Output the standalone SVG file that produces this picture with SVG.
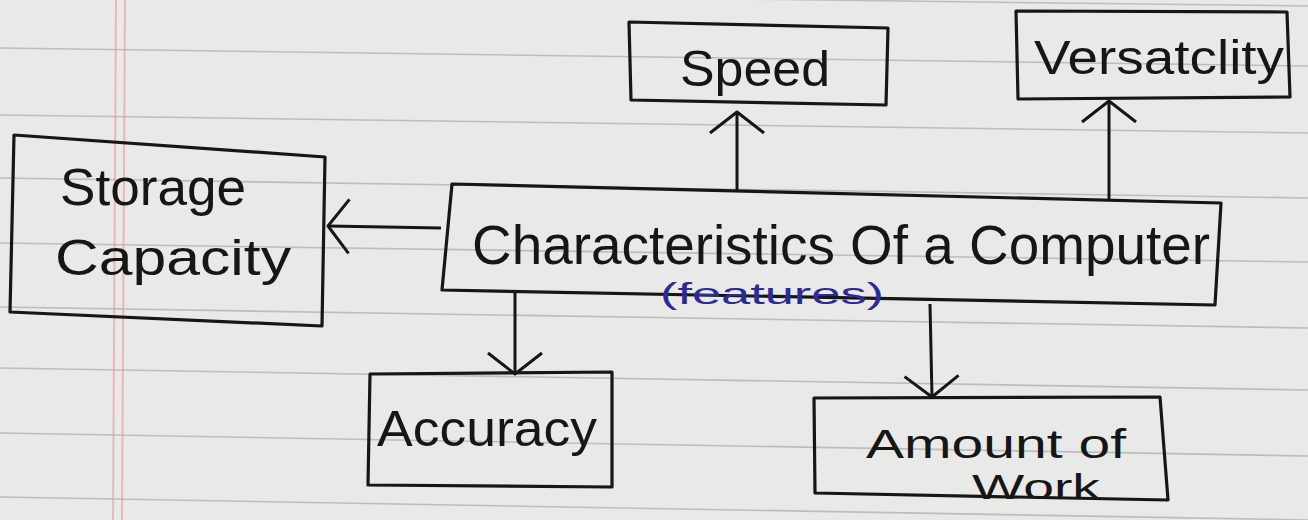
<svg xmlns="http://www.w3.org/2000/svg" width="1308" height="520" viewBox="0 0 1308 520">
  <defs>
    <style>
      .paper { fill: #e9e9e7; }
      .rule { stroke: #9a9a9a; stroke-width: 1.6; opacity: 0.55; }
      .margin { stroke: #e59a9a; stroke-width: 2; opacity: 0.6; }
      .box { fill: none; stroke: #161616; stroke-width: 3.2; stroke-linejoin: round; }
      .conn { fill: none; stroke: #161616; stroke-width: 3; }
      .ink { font-family: "Liberation Sans Narrow", "Liberation Sans", sans-serif; fill: #161616; }
      .blue { font-family: "Liberation Sans Narrow", "Liberation Sans", sans-serif; fill: #2b2a9a; }
    </style>
    <marker id="vhead" viewBox="-24 -32 28 64" refX="0" refY="0" markerWidth="28" markerHeight="64" markerUnits="userSpaceOnUse" orient="auto">
      <path d="M-21,-27 L0,0 L-21,27" fill="none" stroke="#161616" stroke-width="3" stroke-linejoin="round"/>
    </marker>
  </defs>

  <g id="paper">
    <rect class="paper" x="0" y="0" width="1308" height="520"/>
    <line class="rule" x1="0" y1="-10" x2="1308" y2="6"/>
    <line class="rule" x1="0" y1="48" x2="1308" y2="66"/>
    <line class="rule" x1="0" y1="115" x2="1308" y2="133"/>
    <line class="rule" x1="0" y1="178" x2="1308" y2="198"/>
    <line class="rule" x1="0" y1="243" x2="1308" y2="262"/>
    <line class="rule" x1="0" y1="307" x2="1308" y2="328"/>
    <line class="rule" x1="0" y1="368" x2="1308" y2="390"/>
    <line class="rule" x1="0" y1="433" x2="1308" y2="456"/>
    <line class="rule" x1="0" y1="497" x2="1308" y2="520"/>
    <line class="margin" x1="116" y1="0" x2="113" y2="520"/>
    <line class="margin" x1="125" y1="0" x2="122" y2="520"/>
  </g>

  <g id="connectors">
    <line class="conn" x1="737" y1="190" x2="737" y2="112" marker-end="url(#vhead)"/>
    <line class="conn" x1="1109" y1="199" x2="1109" y2="101" marker-end="url(#vhead)"/>
    <line class="conn" x1="441" y1="228" x2="328" y2="226" marker-end="url(#vhead)"/>
    <line class="conn" x1="515" y1="291" x2="515" y2="374" marker-end="url(#vhead)"/>
    <line class="conn" x1="930" y1="304" x2="932" y2="397" marker-end="url(#vhead)"/>
  </g>

  <g id="main">
    <polygon class="box" points="452,184 1221,203 1215,305 442,290"/>
    <text class="ink" x="472" y="264" font-size="56" textLength="738" lengthAdjust="spacingAndGlyphs">Characteristics  Of a Computer</text>
    <text class="blue" x="660" y="304" font-size="30" textLength="224" lengthAdjust="spacingAndGlyphs">(features)</text>
  </g>

  <g id="speed">
    <polygon class="box" points="629,22 888,28 886,105 631,100"/>
    <text class="ink" x="680" y="86" font-size="50" textLength="150" lengthAdjust="spacingAndGlyphs">Speed</text>
  </g>

  <g id="versatility">
    <polygon class="box" points="1016,11 1287,12 1290,97 1018,99"/>
    <text class="ink" x="1034" y="74" font-size="48" textLength="250" lengthAdjust="spacingAndGlyphs">Versatclity</text>
  </g>

  <g id="storage">
    <polygon class="box" points="14,135 325,157 322,326 10,312"/>
    <text class="ink" x="60" y="205" font-size="52" textLength="186" lengthAdjust="spacingAndGlyphs">Storage</text>
    <text class="ink" x="55" y="275" font-size="50" textLength="236" lengthAdjust="spacingAndGlyphs">Capacity</text>
  </g>

  <g id="accuracy">
    <polygon class="box" points="370,374 612,372 612,487 368,485"/>
    <text class="ink" x="377" y="446" font-size="50" textLength="220" lengthAdjust="spacingAndGlyphs">Accuracy</text>
  </g>

  <g id="amount">
    <polygon class="box" points="814,398 1160,397 1168,500 815,493"/>
    <text class="ink" x="866" y="458" font-size="40" textLength="260" lengthAdjust="spacingAndGlyphs">Amount  of</text>
    <text class="ink" x="972" y="499" font-size="35" textLength="128" lengthAdjust="spacingAndGlyphs">Work</text>
  </g>
</svg>
